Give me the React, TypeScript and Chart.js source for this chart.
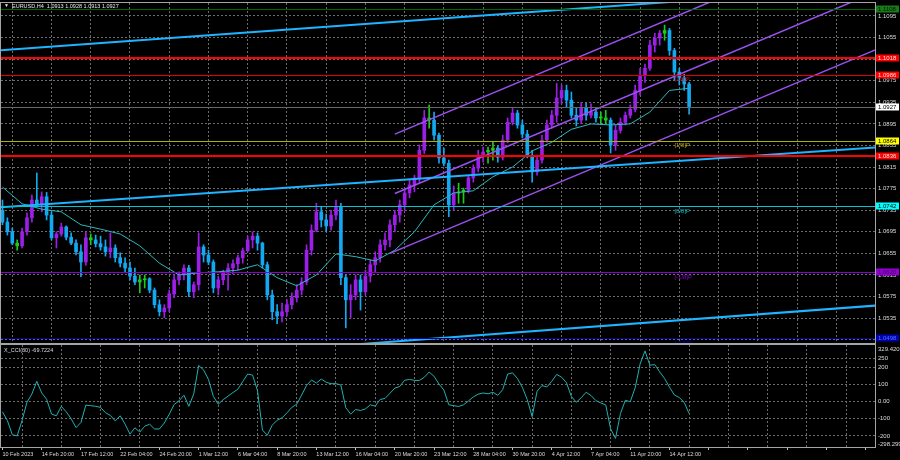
import { useEffect, useRef } from "react";
import { Chart, registerables, type Plugin } from "chart.js";

Chart.register(...registerables);

// one candle = 8 hours (two H4 bars), labels every 8 candles
const timeLabels = [
  "10 Feb 2023", "14 Feb 20:00", "17 Feb 12:00", "22 Feb 04:00", "24 Feb 20:00",
  "1 Mar 12:00", "6 Mar 04:00", "8 Mar 20:00", "13 Mar 12:00", "16 Mar 04:00",
  "20 Mar 20:00", "23 Mar 12:00", "28 Mar 04:00", "30 Mar 20:00", "4 Apr 12:00",
  "7 Apr 04:00", "11 Apr 20:00", "14 Apr 12:00",
];
const LABEL_EVERY = 8;

const open = [
  1.0735, 1.0713, 1.0695, 1.0674, 1.0669, 1.0695, 1.0721, 1.0754, 1.0745, 1.0760,
  1.0726, 1.0684, 1.0691, 1.0704, 1.0685, 1.0674, 1.0658, 1.0639, 1.0684, 1.0680,
  1.0673, 1.0667, 1.0658, 1.0665, 1.0647, 1.0637, 1.0628, 1.0613, 1.0602, 1.0606,
  1.0608, 1.0587, 1.0560, 1.0547, 1.0554, 1.0580, 1.0606, 1.0615, 1.0628, 1.0584,
  1.0597, 1.0667, 1.0652, 1.0639, 1.0591, 1.0606, 1.0619, 1.0628, 1.0636, 1.0647,
  1.0660, 1.0680, 1.0687, 1.0674, 1.0634, 1.0578, 1.0547, 1.0539, 1.0547, 1.0560,
  1.0573, 1.0587, 1.0602, 1.0661, 1.0698, 1.0732, 1.0717, 1.0706, 1.0726, 1.0741,
  1.0610, 1.0569, 1.0578, 1.0606, 1.0584, 1.0613, 1.0634, 1.0647, 1.0671, 1.0680,
  1.0708, 1.0726, 1.0745, 1.0767, 1.0782, 1.0795, 1.0846, 1.0906, 1.0902, 1.0874,
  1.0832, 1.0822, 1.0745, 1.0767, 1.0769, 1.0772, 1.0795, 1.0813, 1.0837, 1.0843,
  1.0846, 1.0850, 1.0833, 1.0865, 1.0898, 1.0915, 1.0893, 1.0876, 1.0837, 1.0806,
  1.0828, 1.0865, 1.0893, 1.0911, 1.0943, 1.0957, 1.0939, 1.0911, 1.0902, 1.0924,
  1.0911, 1.0917, 1.0906, 1.0906, 1.0902, 1.0856, 1.0883, 1.0898, 1.0911, 1.0922,
  1.0957, 1.0985, 1.0998, 1.1041, 1.1054, 1.1063, 1.1068, 1.1031, 1.0991, 1.0980,
  1.0969,
];
const high = [
  1.0754, 1.0721, 1.0702, 1.0680, 1.0702, 1.0730, 1.0763, 1.0804, 1.0769, 1.0768,
  1.0732, 1.0695, 1.0711, 1.0706, 1.0693, 1.0680, 1.0671, 1.0695, 1.0691, 1.0689,
  1.0687, 1.0680, 1.0693, 1.0671, 1.0656, 1.0647, 1.0639, 1.0628, 1.0615, 1.0615,
  1.0610, 1.0591, 1.0569, 1.0560, 1.0587, 1.0615, 1.0621, 1.0634, 1.0633, 1.0602,
  1.0693, 1.0671, 1.0661, 1.0643, 1.0613, 1.0624, 1.0636, 1.0643, 1.0652, 1.0665,
  1.0687, 1.0695, 1.0693, 1.0676, 1.0639, 1.0587, 1.0560, 1.0563, 1.0569, 1.0582,
  1.0597, 1.0610, 1.0671, 1.0708, 1.0748, 1.0741, 1.0728, 1.0735, 1.0754, 1.0748,
  1.0615, 1.0597, 1.0615, 1.0615, 1.0624, 1.0643, 1.0658, 1.0680, 1.0693, 1.0717,
  1.0735, 1.0754, 1.0776, 1.0791, 1.0800, 1.0856, 1.0920, 1.0930, 1.0917, 1.0878,
  1.0850, 1.0828, 1.0780, 1.0785, 1.0776, 1.0800, 1.0819, 1.0846, 1.0852, 1.0852,
  1.0861, 1.0854, 1.0874, 1.0906, 1.0924, 1.0920, 1.0902, 1.0883, 1.0846, 1.0837,
  1.0874, 1.0902, 1.0920, 1.0970, 1.0967, 1.0967, 1.0954, 1.0924, 1.0935, 1.0933,
  1.0932, 1.0924, 1.0917, 1.0920, 1.0906, 1.0893, 1.0906, 1.0917, 1.0930, 1.0967,
  1.0998, 1.1006, 1.1050, 1.1063, 1.1068, 1.1078, 1.1072, 1.1035, 1.0998, 1.0987,
  1.0972,
];
const low = [
  1.0708, 1.0689, 1.0671, 1.0661, 1.0665, 1.0689, 1.0713, 1.0741, 1.0732, 1.0717,
  1.0680, 1.0665, 1.0687, 1.0680, 1.0671, 1.0652, 1.0612, 1.0633, 1.0671, 1.0667,
  1.0661, 1.0650, 1.0647, 1.0639, 1.0630, 1.0621, 1.0606, 1.0597, 1.0582, 1.0591,
  1.0582, 1.0554, 1.0539, 1.0536, 1.0547, 1.0573, 1.0597, 1.0606, 1.0575, 1.0573,
  1.0587, 1.0639, 1.0634, 1.0582, 1.0578, 1.0597, 1.0587, 1.0617, 1.0624, 1.0637,
  1.0658, 1.0665, 1.0661, 1.0628, 1.0569, 1.0532, 1.0525, 1.0528, 1.0539, 1.0552,
  1.0565, 1.0578, 1.0597, 1.0652, 1.0695, 1.0704, 1.0695, 1.0698, 1.0717, 1.0597,
  1.0517, 1.0536, 1.0569, 1.0550, 1.0578, 1.0602, 1.0621, 1.0639, 1.0661, 1.0667,
  1.0695, 1.0713, 1.0735, 1.0758, 1.0769, 1.0787, 1.0840, 1.0887, 1.0865, 1.0822,
  1.0817, 1.0723, 1.0735, 1.0748, 1.0748, 1.0767, 1.0787, 1.0806, 1.0824, 1.0822,
  1.0828, 1.0824, 1.0828, 1.0860, 1.0893, 1.0887, 1.0869, 1.0832, 1.0787, 1.0800,
  1.0822, 1.0861, 1.0887, 1.0898, 1.0932, 1.0926, 1.0906, 1.0891, 1.0895, 1.0902,
  1.0906, 1.0898, 1.0895, 1.0895, 1.0841, 1.0846, 1.0878, 1.0893, 1.0906, 1.0917,
  1.0948, 1.0972, 1.0994, 1.1028, 1.1041, 1.1050, 1.1022, 1.0976, 1.0967, 1.0957,
  1.0913,
];
const close = [
  1.0713, 1.0695, 1.0674, 1.0669, 1.0695, 1.0721, 1.0754, 1.0745, 1.0760, 1.0726,
  1.0684, 1.0691, 1.0704, 1.0685, 1.0674, 1.0658, 1.0639, 1.0684, 1.0680, 1.0673,
  1.0667, 1.0658, 1.0665, 1.0647, 1.0637, 1.0628, 1.0613, 1.0602, 1.0606, 1.0608,
  1.0587, 1.0560, 1.0547, 1.0554, 1.0580, 1.0606, 1.0615, 1.0628, 1.0584, 1.0597,
  1.0667, 1.0652, 1.0639, 1.0591, 1.0606, 1.0619, 1.0628, 1.0636, 1.0647, 1.0660,
  1.0680, 1.0687, 1.0674, 1.0634, 1.0578, 1.0547, 1.0539, 1.0547, 1.0560, 1.0573,
  1.0587, 1.0602, 1.0661, 1.0698, 1.0732, 1.0717, 1.0706, 1.0726, 1.0741, 1.0610,
  1.0569, 1.0578, 1.0606, 1.0584, 1.0613, 1.0634, 1.0647, 1.0671, 1.0680, 1.0708,
  1.0726, 1.0745, 1.0767, 1.0782, 1.0795, 1.0846, 1.0906, 1.0902, 1.0874, 1.0832,
  1.0822, 1.0745, 1.0767, 1.0769, 1.0772, 1.0795, 1.0813, 1.0837, 1.0843, 1.0846,
  1.0850, 1.0833, 1.0865, 1.0898, 1.0915, 1.0893, 1.0876, 1.0837, 1.0806, 1.0828,
  1.0865, 1.0893, 1.0911, 1.0943, 1.0957, 1.0939, 1.0911, 1.0902, 1.0924, 1.0911,
  1.0917, 1.0906, 1.0906, 1.0902, 1.0856, 1.0883, 1.0898, 1.0911, 1.0922, 1.0957,
  1.0985, 1.0998, 1.1041, 1.1054, 1.1063, 1.1068, 1.1031, 1.0991, 1.0980, 1.0969,
  1.0927,
];

// moving average, read every 4th candle
const MA_STEP = 4;
const maValues = [
  1.0778, 1.0747, 1.0737, 1.0732, 1.0708, 1.0700, 1.0691, 1.0669, 1.0637, 1.0615,
  1.0619, 1.0621, 1.0624, 1.0634, 1.0610, 1.0595, 1.0615, 1.0654, 1.0649, 1.0641,
  1.0661, 1.0695, 1.0745, 1.0767, 1.0771, 1.0797, 1.0815, 1.0845, 1.0861, 1.0885,
  1.0895, 1.0893, 1.0895, 1.0917, 1.0957, 1.0961,
];

const cciValues = [
  -60, -111, -193, -200, -110, -4, 44, 118, 50, 13,
  -73, -83, -28, -60, -100, -152, -122, -21, -24, -28,
  -34, -65, -81, -113, -83, -132, -190, -153, -178, -144,
  -132, -160, -160, -125, -74, -17, 4, 37, -28, 45,
  210, 184, 129, 30, -16, 11, 32, 52, 72, 117,
  160, 154, 63, -166, -196, -138, -109, -95, -66, -34,
  -16, 38, 94, 125, 108, 131, 112, 104, 104, 96,
  -36, -73, -47, -52, -43, -19, -27, 12, 18, 48,
  78, 88, 124, 129, 123, 123, 141, 172, 147, 102,
  67, -19, -24, -29, -19, 3, 27, 43, 50, 45,
  54, 36, 70, 160, 167, 134, 83, 11, -88, 60,
  93, 85, 118, 158, 142, 109, 29, -4, 22, 54,
  35, 5, -8, -20, -160, -215, -70, 7, -1, 80,
  218, 295, 212, 215, 173, 134, 84, 38, 23, -5,
  -69.7,
];

const priceTicks = [
  1.1095, 1.1055, 1.1015, 1.0975, 1.0935, 1.0895, 1.0855, 1.0815,
  1.0775, 1.0735, 1.0695, 1.0655, 1.0615, 1.0575, 1.0535, 1.0495,
];
const cciTicks = [-200, -100, 0, 100, 200, 250];
const cciHighText = "329.4203";
const cciLowText = "-298.2999";

// horizontal levels and their axis boxes
const levelPrices = [1.1108, 1.1018, 1.0986, 1.0927, 1.0864, 1.0836, 1.0742, 1.062, 1.0498];
const levelStyles = [
  { line: "#006400", width: 1, box: "#1a7a1a", text: "#001a00" },
  { line: "#ff0000", width: 2, box: "#ff0000", text: "#ffe0e0" },
  { line: "#e00000", width: 1, box: "#ff0000", text: "#ffe0e0" },
  { line: "#666666", width: 1, box: "#ffffff", text: "#000000" },
  { line: "#b0b000", width: 1, box: "#ffff00", text: "#000000" },
  { line: "#ff0000", width: 2, box: "#ff0000", text: "#ffe0e0" },
  { line: "#00c4d0", width: 1, box: "#00ffff", text: "#000000" },
  { line: "#8c00d0", width: 1, box: "#9400d3", text: "#3a005c" },
  { line: "#0000a0", width: 1, box: "#0000b4", text: "#5070ff" },
];

const murreyNames = ["[2/8]P", "[1/8]P", "[0/8]P", "[-1/8]P", "[-2/8]P"];
const murreyPrices = [1.0986, 1.0864, 1.0742, 1.062, 1.0498];
const murreyColors = ["#d00000", "#b4a400", "#00b4be", "#8c00d0", "#0000c0"];
const murreyAt = 137;

// [startIndex, startPrice, endIndex, endPrice]
const blueLines = [
  [-1, 1.1031, 179, 1.1149],
  [-1, 1.074, 179, 1.0852],
  [70, 1.0485, 179, 1.0559],
];
const channelLines = [
  [80, 1.0876, 179, 1.1253],
  [80, 1.0766, 179, 1.1143],
  [79, 1.0655, 179, 1.1036],
];

const titleText = "EURUSD,H4  1.0913 1.0928 1.0913 1.0927";
const cciTitle = "X_CCI(30) -69.7224";

const X_MIN = -0.3;
const X_MAX = 177.9;
const PRICE_MIN = 1.0489;
const PRICE_MAX = 1.1119;
const CCI_MIN = -265;
const CCI_MAX = 329.4203;
const AXIS_W = 25;
const FONT = "'Liberation Sans', Arial, sans-serif";
const GRID = "#6b6b6b";
const TEXT = "#dcdcdc";
const FRAME = "#a4a4a4";
const BULL = "#9b1fe6";
const BEAR = "#14a8f0";
const DOJI = "#1ec81e";
const BLUE = "#1eb4ff";
const PURPLE = "#9b50f0";
const MA_COLOR = "#2ab8c0";
const CCI_COLOR = "#22b0b0";

const candleColor = (i: number) => {
  const body = close[i] - open[i];
  if (Math.abs(body) < 0.00055) return DOJI;
  return body > 0 ? BULL : BEAR;
};

const fitNoPadding = (s: any) => {
  s.paddingTop = 0;
  s.paddingBottom = 0;
  s.paddingLeft = 0;
  s.paddingRight = 0;
};

const timeAxis = (showLabels: boolean): any => ({
  type: "linear",
  min: X_MIN,
  max: X_MAX,
  offset: false,
  afterBuildTicks: (s: any) => {
    const ticks = [];
    for (let v = 0; v <= X_MAX; v += LABEL_EVERY / 2) ticks.push({ value: v });
    s.ticks = ticks;
  },
  afterFit: (s: any) => {
    s.height = showLabels ? 13 : 0;
    fitNoPadding(s);
  },
  grid: {
    color: (c: any) => (c.tick && c.tick.value % LABEL_EVERY === LABEL_EVERY / 2 ? GRID : "transparent"),
    tickColor: (c: any) => (c.tick && c.tick.value % LABEL_EVERY === 0 ? "#bdbdbd" : "transparent"),
    drawTicks: showLabels,
    tickLength: 3,
  },
  border: { display: false, dash: [2, 2] },
  ticks: {
    display: showLabels,
    autoSkip: false,
    maxRotation: 0,
    align: "start",
    padding: 1,
    color: TEXT,
    font: { family: FONT, size: 5.5 },
    callback: (v: number) => (v % LABEL_EVERY === 0 ? timeLabels[v / LABEL_EVERY] ?? "" : ""),
  },
});

const framePlugin: Plugin = {
  id: "frame",
  afterDraw(chart) {
    const { ctx, chartArea: a } = chart;
    ctx.save();
    ctx.strokeStyle = FRAME;
    ctx.lineWidth = 1;
    ctx.strokeRect(Math.round(a.left) - 0.5, Math.round(a.top) - 0.5, Math.round(a.right - a.left) + 1, Math.round(a.bottom - a.top) + 1);
    ctx.restore();
  },
};

const priceOverlay: Plugin = {
  id: "priceOverlay",
  afterDatasetsDraw(chart) {
    const { ctx, chartArea: a, scales } = chart;
    const xs = scales.x;
    const ys = scales.y;
    ctx.save();
    ctx.beginPath();
    ctx.rect(a.left, a.top, a.right - a.left, a.bottom - a.top);
    ctx.clip();
    levelPrices.forEach((p, i) => {
      const st = levelStyles[i];
      const py = Math.round(ys.getPixelForValue(p)) + (st.width % 2 ? 0.5 : 0);
      ctx.strokeStyle = st.line;
      ctx.lineWidth = st.width;
      ctx.beginPath();
      ctx.moveTo(a.left, py);
      ctx.lineTo(a.right, py);
      ctx.stroke();
    });
    ctx.font = `6px ${FONT}`;
    ctx.textAlign = "left";
    ctx.textBaseline = "top";
    murreyPrices.forEach((p, i) => {
      ctx.fillStyle = murreyColors[i];
      ctx.fillText(murreyNames[i], xs.getPixelForValue(murreyAt), ys.getPixelForValue(p) + 2);
    });
    ctx.restore();
  },
  afterDraw(chart) {
    const { ctx, chartArea: a, scales } = chart;
    const ys = scales.y;
    ctx.save();
    ctx.font = `6px ${FONT}`;
    ctx.textAlign = "left";
    ctx.textBaseline = "middle";
    levelPrices.forEach((p, i) => {
      const st = levelStyles[i];
      const py = Math.round(ys.getPixelForValue(p));
      ctx.fillStyle = st.box;
      ctx.fillRect(a.right + 1, py - 3.5, 23, 7);
      ctx.fillStyle = st.text;
      ctx.fillText(p.toFixed(4), a.right + 3, py);
    });
    ctx.fillStyle = "#e8e8e8";
    ctx.font = `5px ${FONT}`;
    ctx.fillText("\u25BC", 4, 6);
    ctx.font = `5.5px ${FONT}`;
    ctx.fillText(titleText, 12, 6);
    ctx.restore();
  },
};

const cciOverlay: Plugin = {
  id: "cciOverlay",
  afterDraw(chart) {
    const { ctx, chartArea: a } = chart;
    ctx.save();
    ctx.fillStyle = TEXT;
    ctx.textAlign = "left";
    ctx.textBaseline = "middle";
    ctx.font = `6px ${FONT}`;
    ctx.fillText(cciHighText, a.right + 3, a.top + 4);
    ctx.fillText(cciLowText, a.right + 3, a.bottom - 3);
    ctx.font = `5.5px ${FONT}`;
    ctx.fillText(cciTitle, 4, a.top + 5);
    ctx.restore();
  },
};

export default function App() {
  const priceRef = useRef<HTMLCanvasElement | null>(null);
  const cciRef = useRef<HTMLCanvasElement | null>(null);

  useEffect(() => {
    document.body.style.margin = "0";
    document.body.style.background = "#000";
    const priceCanvas = priceRef.current;
    const cciCanvas = cciRef.current;
    if (!priceCanvas || !cciCanvas) return;

    const colors = close.map((_, i) => candleColor(i));

    const priceChart = new Chart(priceCanvas, {
      type: "line",
      data: {
        datasets: [
          ...blueLines.map(([x0, p0, x1, p1]) => ({
            type: "line",
            data: [{ x: x0, y: p0 }, { x: x1, y: p1 }],
            borderColor: BLUE,
            borderWidth: 2,
            pointRadius: 0,
            order: 0,
          })),
          ...channelLines.map(([x0, p0, x1, p1]) => ({
            type: "line",
            data: [{ x: x0, y: p0 }, { x: x1, y: p1 }],
            borderColor: PURPLE,
            borderWidth: 1.5,
            pointRadius: 0,
            order: 0,
          })),
          {
            type: "line",
            data: maValues.map((v, k) => ({ x: k * MA_STEP, y: v })),
            borderColor: MA_COLOR,
            borderWidth: 1,
            pointRadius: 0,
            order: 1,
          },
          {
            type: "bar",
            data: close.map((c, i) => ({ x: i, y: [open[i], c] })),
            backgroundColor: colors,
            barThickness: 3,
            grouped: false,
            minBarLength: 1,
            borderWidth: 0,
            order: 2,
          },
          {
            type: "bar",
            data: close.map((_, i) => ({ x: i, y: [low[i], high[i]] })),
            backgroundColor: colors,
            barThickness: 1,
            grouped: false,
            minBarLength: 1,
            borderWidth: 0,
            order: 3,
          },
        ] as any,
      },
      options: {
        responsive: false,
        animation: false,
        events: [],
        layout: { padding: { top: 3, left: 1, right: 0, bottom: 1 } },
        plugins: { legend: { display: false }, tooltip: { enabled: false } },
        scales: {
          x: timeAxis(false),
          y: {
            type: "linear",
            position: "right",
            min: PRICE_MIN,
            max: PRICE_MAX,
            afterBuildTicks: (s: any) => {
              s.ticks = priceTicks.map((v) => ({ value: v }));
            },
            afterFit: (s: any) => {
              s.width = AXIS_W;
              fitNoPadding(s);
            },
            grid: { color: GRID, drawTicks: false },
            border: { display: false, dash: [2, 2] },
            ticks: {
              autoSkip: false,
              padding: 3,
              color: TEXT,
              font: { family: FONT, size: 6 },
              callback: (v: any) => Number(v).toFixed(4),
            },
          },
        } as any,
      },
      plugins: [framePlugin, priceOverlay],
    });

    const cciChart = new Chart(cciCanvas, {
      type: "line",
      data: {
        datasets: [
          {
            data: cciValues.map((v, i) => ({ x: i, y: v })),
            borderColor: CCI_COLOR,
            borderWidth: 1,
            pointRadius: 0,
          },
        ],
      },
      options: {
        responsive: false,
        animation: false,
        events: [],
        layout: { padding: { top: 1, left: 1, right: 0, bottom: 0 } },
        plugins: { legend: { display: false }, tooltip: { enabled: false } },
        scales: {
          x: timeAxis(true),
          y: {
            type: "linear",
            position: "right",
            min: CCI_MIN,
            max: CCI_MAX,
            afterBuildTicks: (s: any) => {
              s.ticks = cciTicks.map((v) => ({ value: v }));
            },
            afterFit: (s: any) => {
              s.width = AXIS_W;
              fitNoPadding(s);
            },
            grid: { color: GRID, drawTicks: false },
            border: { display: false, dash: [2, 2] },
            ticks: {
              autoSkip: false,
              padding: 3,
              color: TEXT,
              font: { family: FONT, size: 6 },
              callback: (v: any) => (v === 0 ? "0.00" : String(v)),
            },
          },
        } as any,
      },
      plugins: [framePlugin, cciOverlay],
    });

    return () => {
      priceChart.destroy();
      cciChart.destroy();
    };
  }, []);

  return (
    <div style={{ position: "fixed", left: 0, top: 0, width: 900, height: 460, background: "#000", overflow: "hidden" }}>
      <canvas ref={priceRef} width={900} height={344} style={{ display: "block" }} />
      <canvas ref={cciRef} width={900} height={116} style={{ display: "block" }} />
    </div>
  );
}
